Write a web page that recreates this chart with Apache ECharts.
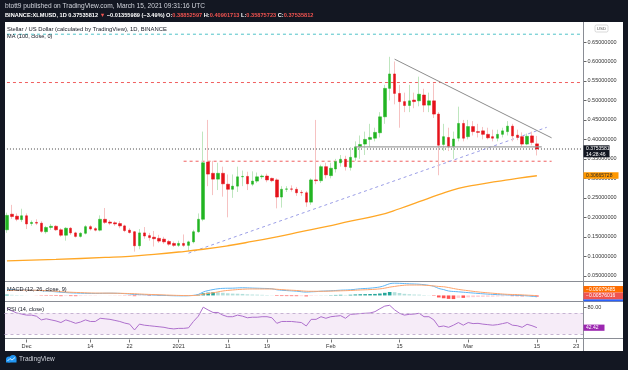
<!DOCTYPE html>
<html><head><meta charset="utf-8">
<script src="https://cdn.jsdelivr.net/npm/echarts/dist/echarts.min.js"></script>
<style>
html,body{margin:0;padding:0;background:#131722;}
#wrap{position:relative;width:628px;height:370px;background:#131722;overflow:hidden;}
#paper{position:absolute;left:5px;top:22px;width:618px;height:329px;background:#ffffff;}
#c{position:absolute;left:0;top:0;width:628px;height:370px;}
</style>
</head><body>
<div id="wrap"><div id="paper"></div><div id="c"></div></div>
<script>
// ---------------- DATA ----------------
const firstDay = [2020, 10, 27];   // 2020-11-27 (month is 0-based)
const dayCount = 118;              // axis runs to 2021-03-24
const opens = [.168,.208,.203,.194,.204,.184,.187,.185,.163,.174,
 .177,.168,.154,.172,.160,.151,.159,.176,.171,.167,
 .195,.188,.186,.184,.178,.167,.163,.127,.160,.153,
 .149,.146,.144,.138,.133,.128,.133,.128,.137,.163,
 .195,.342,.313,.298,.313,.285,.272,.280,.304,.305,
 .285,.293,.304,.306,.300,.296,.252,.272,.273,.272,
 .264,.263,.239,.296,.294,.330,.307,.324,.340,.349,
 .328,.354,.381,.388,.400,.403,.417,.458,.531,.568,
 .518,.497,.487,.501,.499,.514,.488,.499,.465,.387,
 .405,.381,.403,.441,.407,.433,.420,.422,.413,.407,
 .403,.413,.420,.434,.411,.407,.388,.409,.38852597];
const highs = [.212,.232,.210,.222,.210,.192,.195,.190,.178,.183,
 .180,.172,.175,.175,.163,.162,.180,.180,.175,.205,
 .224,.193,.190,.190,.181,.172,.165,.170,.175,.160,
 .165,.155,.150,.142,.138,.140,.156,.140,.168,.210,
 .420,.450,.345,.340,.330,.310,.310,.330,.320,.317,
 .318,.315,.310,.312,.302,.300,.280,.280,.282,.278,
 .270,.268,.300,.450,.335,.340,.340,.350,.360,.358,
 .380,.395,.410,.420,.440,.430,.470,.540,.612,.600,
 .540,.520,.540,.520,.561,.530,.520,.544,.470,.440,
 .430,.420,.484,.450,.450,.447,.440,.432,.430,.425,
 .425,.430,.447,.440,.425,.418,.415,.420,.40901713];
const lows = [.160,.196,.190,.188,.170,.178,.180,.160,.158,.168,
 .165,.150,.140,.155,.148,.148,.156,.166,.164,.164,
 .183,.180,.178,.172,.162,.158,.112,.118,.145,.140,
 .125,.134,.132,.127,.124,.124,.124,.114,.133,.160,
 .190,.280,.257,.270,.253,.200,.250,.265,.280,.270,
 .280,.288,.298,.290,.290,.223,.225,.265,.266,.255,
 .255,.227,.232,.285,.288,.300,.300,.315,.330,.320,
 .320,.345,.350,.360,.380,.395,.405,.440,.500,.490,
 .430,.470,.470,.480,.485,.470,.470,.455,.308,.370,
 .370,.350,.395,.395,.400,.410,.405,.400,.400,.395,
 .395,.405,.410,.395,.398,.380,.385,.385,.35875723];
const closes = [.205,.202,.195,.204,.183,.187,.185,.164,.174,.177,
 .168,.154,.172,.160,.151,.159,.176,.170,.167,.195,
 .187,.185,.183,.178,.166,.161,.127,.160,.152,.148,
 .145,.139,.137,.131,.128,.133,.128,.137,.163,.195,
 .340,.311,.298,.313,.286,.272,.280,.304,.305,.286,
 .293,.304,.306,.296,.294,.252,.272,.273,.272,.263,
 .263,.239,.296,.294,.330,.309,.326,.343,.349,.330,
 .354,.381,.387,.400,.405,.418,.458,.531,.568,.518,
 .497,.487,.499,.497,.516,.488,.499,.465,.385,.407,
 .381,.401,.441,.403,.433,.420,.418,.413,.404,.403,
 .413,.422,.434,.409,.405,.388,.408,.392,.37535812];
// MA(100) read at these day indices
const maDays = [0,10,20,25,30,35,40,45,50,55,60,65,70,76,80,84,88,92,96,100,104,108];
const maVals = [.088,.092,.097,.100,.105,.111,.118,.127,.138,.150,.163,.176,.190,.206,.222,.240,.258,.274,.284,.292,.300,.30665728];
// MACD (units of 0.001)
const macdDays = [0,3,6,9,12,15,18,21,24,26,28,31,34,36,37,38,39,40,41,42,43,44,46,48,50,52,54,55,57,59,61,62,63,64,66,68,70,72,74,76,77,78,79,80,82,84,86,87,88,89,90,92,94,96,98,100,102,104,106,108];
const macdVals = [28,28,25,20,14,11,10,11,9,5,3.5,1,-1.5,-2,-1.5,0.5,5,17,24,29,33,35,36,38,36.5,35,33,28,24,21,16.5,18,19,21,23,26,28,33,36,42,49,58,60.5,60,57.5,55.5,50,45,34.5,29,22,18,14,10,6.5,4,2.5,0.5,-2,-6.6];
const signalVals = [24,26.5,25.5,22,17,14,11.6,11.3,10,8.5,6,3.4,0.7,-0.5,-0.7,-0.5,1.5,6,10,13,17.5,22,27,30.5,32,32,32,30.5,27.2,24.5,21,20.5,20.5,20.5,21.5,22.8,24.5,27,29,32.5,36,41,44.5,48,51.5,51.5,49,47,44.5,43,39,30,23.5,17.5,13,9,5.5,4,1.5,-0.8];
const histVals = [4,3,2,1.5,0.5,0,-0.5,-1.5,-2,-2,
 -2.5,-3.5,-3,-3.2,-3.5,-3,-2,-1.8,-1.6,-0.5,
 -0.3,-0.3,-0.4,-0.6,-1,-1.5,-3.5,-2.5,-2.4,-2.5,
 -2.4,-2.4,-2.3,-2.4,-2.2,-1.8,-1.5,-0.8,1,3.5,
 11,14,16,15.5,13,10.5,9,8.5,7.5,5.5,
 4.5,4,3,2,1,-2.5,-3,-3.2,-3.3,-3.5,
 -3.4,-4.5,-2.5,-1.5,0.5,0.5,1.5,2.5,3.2,2.5,
 3.5,5,6,6.5,7,7.5,9.5,13,17,16,
 12,8,6,4.5,4,2,1,-2,-10,-14,
 -17,-18,-12,-12,-9.5,-8.5,-7.5,-7,-6.5,-6,
 -5,-4.2,-3,-3.5,-3.6,-4.2,-3.5,-3.8,-5.76];
const rsiVals = [79,74,70,68,66,66,64,57,59,57,
 55,52,57,54,50.5,53,57,54,54,60,
 59,58,56,54,51,49,38,49,47,46,
 45,44,43,41,40,41,41,42,54,64,
 81,75.7,71,71,66,63,63,66,64,61,
 62,62,63,63,61,50.5,54,54,54,53,
 52,45.5,58,58,63,60,63,64,65,60,
 67.5,68,69,69.5,70,72.5,78,83,84.5,76,
 69.5,66,67.5,68,69.5,63,63,57,44,45.5,
 43,47,52,47,52,50,50.5,49,48,47,
 48,50,52,47,46,43,48.7,46,42.42];
// Drawn levels / trendlines: [dayIndex, price] end points
const tealLevel = [[0, 0.670], [117, 0.670]];
const redHighLevel = [[0, 0.546], [117, 0.546]];
const redLowLevel = [[36, 0.344], [111, 0.344]];
const lastCloseLine = [[0, 0.37535812], [117, 0.37535812]];
const supportLine = [[71, 0.381], [109, 0.381]];
const fallingLine = [[79, 0.606], [111, 0.404]];
const risingLine = [[37, 0.108], [110, 0.431]];
// Time axis tick labels
const tickDates = ['2020-12-01','2020-12-14','2020-12-22','2021-01-01','2021-01-11','2021-01-19','2021-02-01','2021-02-15','2021-03-01','2021-03-15','2021-03-23'];
const tickTexts = ['Dec','14','22','2021','11','19','Feb','15','Mar','15','23'];
const priceTicks = {min:0, max:0.7, step:0.05};

// ---------------- BUILD ----------------
const categories = [];
for (let k = 0; k < dayCount; k++) {
  const d = new Date(Date.UTC(firstDay[0], firstDay[1], firstDay[2] + k));
  categories.push(d.toISOString().slice(0, 10));
}
const tickMap = {};
tickDates.forEach((d, k) => tickMap[d] = tickTexts[k]);
const isTick = (idx, val) => tickMap[val] !== undefined;

const wickData = opens.map((o, k) => [o, closes[k], lows[k], highs[k]]);
const bodyData = opens.map((o, k) => [o, closes[k], Math.min(o, closes[k]), Math.max(o, closes[k])]);
const histData = histVals.map((v, k) => {
  const p = k > 0 ? histVals[k - 1] : v;
  let c;
  if (v >= 0) c = v >= p ? '#26a69a' : '#b2dfdb';
  else c = v <= p ? '#ff5252' : '#ffcdd2';
  return {value: v, itemStyle: {color: c}};
});
const pairs = (days, vals) => days.map((d, k) => [categories[d], vals[k]]);
const ptPairs = (pts) => pts.map(p => [categories[p[0]], p[1]]);

const FF = '"Liberation Sans", Arial, sans-serif';
const GL = 4.5, GW = 579;
const hiddenX = (gi) => ({type:'category', gridIndex:gi, data:categories, boundaryGap:true,
  axisLine:{show:false}, axisTick:{show:false}, axisLabel:{show:false}, splitLine:{show:false}});
const drawn = (name, pts, style, z) => ({type:'line', name:name, xAxisIndex:0, yAxisIndex:0, data:ptPairs(pts),
  showSymbol:false, symbol:'none', silent:true, z:z || 5, lineStyle:style});

function txt(x, y, text, size, fill, align) {
  return {type:'text', x:x, y:y, z:100, silent:true,
    style:{text:text, fill:fill, fontSize:size, fontFamily:FF, verticalAlign:'middle', align:align || 'left'}};
}
function rect(x, y, w, h, fill, z) {
  return {type:'rect', z:z || 90, silent:true, shape:{x:x, y:y, width:w, height:h}, style:{fill:fill}};
}
function line(x1, y1, x2, y2, color) {
  return {type:'line', z:80, silent:true, shape:{x1:x1, y1:y1, x2:x2, y2:y2}, style:{stroke:color, lineWidth:1}};
}

const chart = echarts.init(document.getElementById('c'), null, {renderer:'canvas'});
const option = {
  animation: false,
  backgroundColor: 'transparent',
  grid: [
    {left:GL, width:GW, top:22.52, height:272.72},
    {left:GL, width:GW, top:282, height:19.5},
    {left:GL, width:GW, top:301.7, height:37.8}
  ],
  xAxis: [
    hiddenX(0), hiddenX(1),
    {type:'category', gridIndex:2, data:categories, boundaryGap:true,
      axisLine:{show:false},
      axisTick:{show:true, alignWithLabel:true, interval:isTick, length:3, lineStyle:{color:'#777'}},
      axisLabel:{show:true, interval:isTick, formatter:(v) => tickMap[v] || '', fontSize:5.6, fontFamily:FF, color:'#333', margin:3.5},
      splitLine:{show:false}}
  ],
  yAxis: [
    {type:'value', gridIndex:0, position:'right', min:priceTicks.min, max:priceTicks.max, interval:priceTicks.step,
      axisLine:{show:false}, axisTick:{show:true, length:3, lineStyle:{color:'#666'}},
      axisLabel:{showMinLabel:false, showMaxLabel:false, formatter:(v) => v.toFixed(8), fontSize:5.5, fontFamily:FF, color:'#333', margin:4},
      splitLine:{show:false}},
    {type:'value', gridIndex:1, position:'right', min:-30, max:66.5,
      axisLine:{show:false}, axisTick:{show:false}, axisLabel:{show:false}, splitLine:{show:false}},
    {type:'value', gridIndex:2, position:'right', min:20, max:91.3, interval:60,
      axisLine:{show:false}, axisTick:{show:true, length:3, lineStyle:{color:'#666'}},
      axisLabel:{showMinLabel:false, showMaxLabel:false, formatter:(v) => v.toFixed(2), fontSize:5.5, fontFamily:FF, color:'#333', margin:4},
      splitLine:{show:false}}
  ],
  series: [
    drawn('teal level', tealLevel, {color:'#4fc3c8', type:[3,3], width:1}, 1),
    drawn('red level high', redHighLevel, {color:'#f06060', type:[3,3], width:1}, 1),
    drawn('red level low', redLowLevel, {color:'#f06060', type:[3,3], width:1}, 1),
    drawn('last close', lastCloseLine, {color:'#444', type:[1,2], width:1}, 1),
    drawn('rising trend', risingLine, {color:'#9a9de6', type:[3,3], width:1}, 1),
    {type:'candlestick', name:'wick', xAxisIndex:0, yAxisIndex:0, data:wickData, barWidth:1, z:2,
      itemStyle:{color:'#bfe6bf', color0:'#f6c2c2', borderColor:'#bfe6bf', borderColor0:'#f6c2c2', borderWidth:1}},
    {type:'candlestick', name:'body', xAxisIndex:0, yAxisIndex:0, data:bodyData, barWidth:3, z:3,
      itemStyle:{color:'#22b422', color0:'#e5121b', borderColor:'#22b422', borderColor0:'#e5121b', borderWidth:0.5}},
    drawn('support', supportLine, {color:'#a0a0a0', type:'solid', width:1.3}, 4),
    drawn('falling trend', fallingLine, {color:'#8c8c8c', type:'solid', width:1}, 4),
    {type:'line', name:'MA', xAxisIndex:0, yAxisIndex:0, data:pairs(maDays, maVals), smooth:true, showSymbol:false, z:4,
      lineStyle:{color:'#ffa726', width:1.3}},
    {type:'bar', name:'Histogram', xAxisIndex:1, yAxisIndex:1, data:histData, barWidth:3.6, z:2},
    {type:'line', name:'MACD', xAxisIndex:1, yAxisIndex:1, data:pairs(macdDays, macdVals), smooth:0.4, showSymbol:false, z:3,
      lineStyle:{color:'#5fb6f5', width:1}},
    {type:'line', name:'Signal', xAxisIndex:1, yAxisIndex:1, data:pairs(macdDays, signalVals), smooth:0.4, showSymbol:false, z:3,
      lineStyle:{color:'#ffa46b', width:1}},
    {type:'line', name:'RSI', xAxisIndex:2, yAxisIndex:2, data:rsiVals, showSymbol:false, z:3,
      lineStyle:{color:'#ad6fcc', width:1},
      markArea:{silent:true, itemStyle:{color:'rgba(156,39,176,0.09)'}, data:[[{yAxis:30},{yAxis:70}]]},
      markLine:{silent:true, symbol:['none','none'], label:{show:false}, animation:false,
        lineStyle:{color:'#c6b4d2', type:[3,3], width:1}, data:[{yAxis:70},{yAxis:30}]}}
  ],
  graphic: [
    line(5, 281.5, 623, 281.5, '#8a8d95'),
    line(5, 301.5, 623, 301.5, '#8a8d95'),
    line(5, 338.5, 623, 338.5, '#8a8d95'),
    line(583.5, 22, 583.5, 351, '#8a8d95'),
    txt(5, 6.5, 'btott9 published on TradingView.com, March 15, 2021 09:31:16 UTC', 6.6, '#d1d4dc'),
    {type:'text', x:5, y:15.3, z:100, silent:true, style:{
      text:'{w|BINANCE:XLMUSD, 1D 0.37535812 }{r|▼}{w| −0.01355989 (−3.49%) O:}{r|0.38852597}{w| H:}{r|0.40901713}{w| L:}{r|0.35875723}{w| C:}{r|0.37535812}',
      verticalAlign:'middle', align:'left',
      rich:{w:{fill:'#ffffff', fontSize:5.65, fontWeight:'bold', fontFamily:FF}, r:{fill:'#ef5350', fontSize:5.65, fontWeight:'bold', fontFamily:FF}}}},
    txt(7, 29.3, 'Stellar / US Dollar (calculated by TradingView), 1D, BINANCE', 5.85, '#131722'),
    txt(7, 36.6, 'MA (100, close, 0)', 5.6, '#131722'),
    txt(7, 289.3, 'MACD (12, 26, close, 9)', 5.6, '#131722'),
    txt(7, 309.3, 'RSI (14, close)', 5.6, '#131722'),
    {type:'rect', z:90, silent:true, shape:{x:595, y:25, width:13, height:7, r:1.5}, style:{fill:'#fff', stroke:'#c8c8c8', lineWidth:0.7}},
    txt(601.5, 28.6, 'USD', 4.4, '#555', 'center'),
    rect(583.5, 145.3, 26, 12, '#131722'),
    txt(586, 148.6, '0.37535812', 5, '#ffffff'),
    txt(586, 154.5, '14:28:46', 5, '#ffffff'),
    rect(583.5, 172.2, 35, 6.6, '#ff9800'),
    txt(586, 175.6, '0.30665728', 5, '#2a2a2a'),
    rect(583.5, 299.2, 39.5, 2, '#2962ff'),
    rect(583.5, 286, 39.5, 6.4, '#ff6d00'),
    txt(586, 289.3, '−0.00079485', 5, '#ffffff'),
    rect(583.5, 292.6, 39.5, 6.6, '#ef5350'),
    txt(586, 296, '−0.00576016', 5, '#ffffff'),
    rect(583.5, 324.6, 21, 6.2, '#9c27b0'),
    txt(586, 327.8, '42.42', 5, '#ffffff'),
    {type:'circle', z:100, silent:true, shape:{cx:9, cy:359.5, r:3}, style:{fill:'#2196f3'}},
    {type:'circle', z:100, silent:true, shape:{cx:13, cy:358.5, r:3.5}, style:{fill:'#2196f3'}},
    rect(6, 359.5, 10.5, 3, '#2196f3', 100),
    {type:'polyline', z:101, silent:true, shape:{points:[[7.5,361],[10,358.5],[12,360],[15,357.5]]}, style:{stroke:'#fff', lineWidth:0.8, fill:null}},
    txt(19, 359.5, 'TradingView', 6.5, '#d1d4dc')
  ]
};
chart.setOption(option);
</script>
</body></html>
